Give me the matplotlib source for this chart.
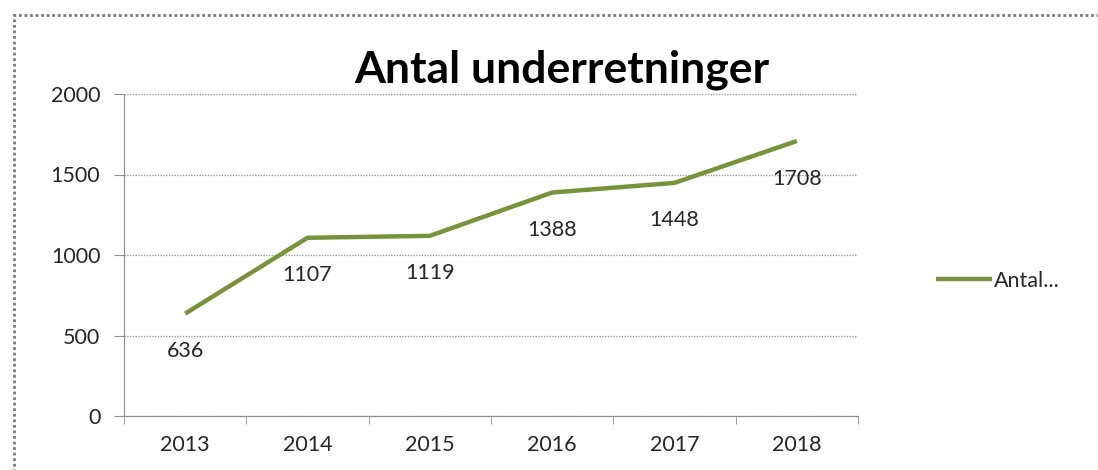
import matplotlib.pyplot as plt
from matplotlib.patches import Rectangle

years = ["2013", "2014", "2015", "2016", "2017", "2018"]
counts = [636, 1107, 1119, 1388, 1448, 1708]
series_name = "Antal..."
title = "Antal underretninger"

plt.rcParams['font.family'] = ['Lato', 'DejaVu Sans']

fig = plt.figure(figsize=(10.98, 4.70), dpi=100)
ax = fig.add_axes([124 / 1098, 1 - 416 / 470, 734 / 1098, 322 / 470])

# outer chart frame (cut off at right and bottom like the screenshot)
fig.patches.append(Rectangle((14 / 1098, -0.1), 1.2, 1 - 15 / 470 + 0.1,
                             transform=fig.transFigure, fill=False,
                             edgecolor="#7a7a7a", linewidth=2, linestyle=(0, (1, 1))))

x = list(range(len(years)))
line, = ax.plot(x, counts, color="#77933C", linewidth=3.2, label=series_name,
                solid_capstyle="butt")

for xi, v in zip(x, counts):
    ax.annotate(str(v), (xi, v), xytext=(0, -27), textcoords="offset points",
                ha="center", va="center", fontsize=15.5, color="#262626")

ax.set_xlim(-0.5, len(years) - 0.5)
ax.set_ylim(0, 2000)
ax.set_yticks([0, 500, 1000, 1500, 2000])
ax.set_xticks(x)
ax.set_xticklabels(years)
ax.set_xticks([i - 0.5 for i in range(len(years) + 1)], minor=True)
ax.tick_params(axis="x", which="major", length=0, pad=14, labelsize=15.5, labelcolor="#262626")
ax.tick_params(axis="x", which="minor", length=6, color="#8c8c8c", direction="out")
ax.tick_params(axis="y", length=7, color="#8c8c8c", pad=10, labelsize=15.5, labelcolor="#262626")

ax.grid(axis="y", color="#9a9a9a", linestyle=(0, (1, 1)), linewidth=1)
ax.set_axisbelow(True)
for side in ("top", "right"):
    ax.spines[side].set_visible(False)
for side in ("left", "bottom"):
    ax.spines[side].set_color("#8c8c8c")
    ax.spines[side].set_linestyle((0, (1, 1)))

fig.text(562 / 1098, 1 - 70 / 470, title, ha="center", va="center",
         fontsize=32, fontweight="bold", color="black")

ax.legend(handles=[line], loc="center left", bbox_to_anchor=(925 / 1098, 1 - 281 / 470),
          bbox_transform=fig.transFigure, frameon=False, handlelength=2.6,
          handletextpad=0.1, fontsize=15.5, labelcolor="#262626", borderpad=0)

fig.savefig("out.png", dpi=100)
